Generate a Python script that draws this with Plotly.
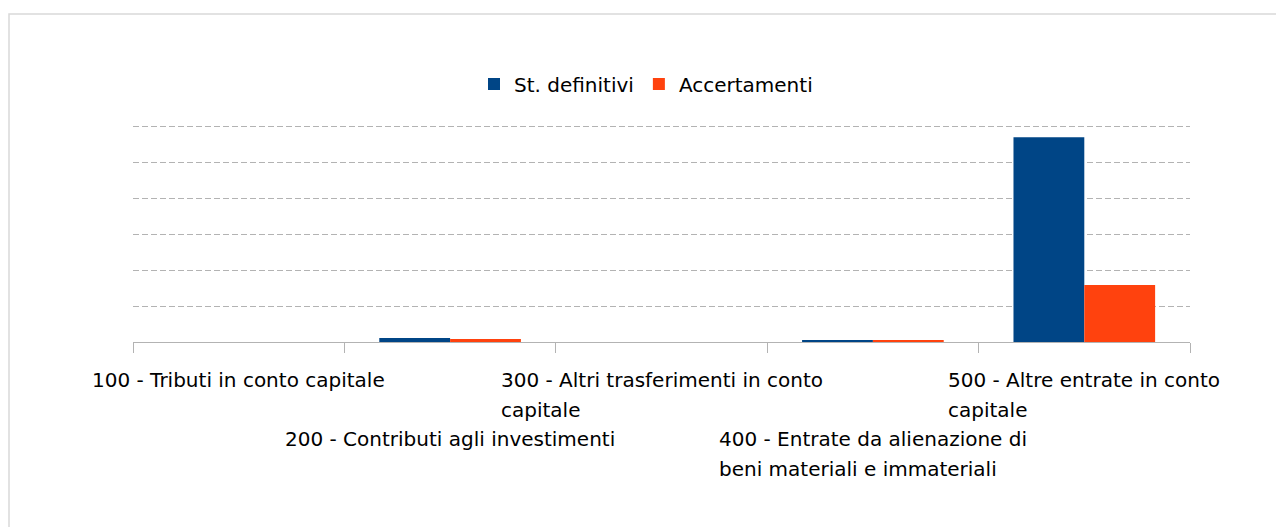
import plotly.graph_objects as go

categories = ["100", "200", "300", "400", "500"]
label_lines = [
    ["100 - Tributi in conto capitale"],
    ["200 - Contributi agli investimenti"],
    ["300 - Altri trasferimenti in conto", "capitale"],
    ["400 - Entrate da alienazione di", "beni materiali e immateriali"],
    ["500 - Altre entrate in conto", "capitale"],
]
st_definitivi = [0.0, 0.11, 0.0, 0.03, 5.69]
accertamenti = [0.0, 0.08, 0.0, 0.03, 1.58]

FONT = "DejaVu Sans"
W, H = 1276, 519           # page body has an 8px margin
L, R, T, B = 125, 94, 116, 185
plot_w = W - L - R
plot_h = H - T - B

fig = go.Figure()
fig.add_trace(go.Bar(x=categories, y=st_definitivi, name="St. definitivi",
                     marker=dict(color="#004586", line=dict(width=0))))
fig.add_trace(go.Bar(x=categories, y=accertamenti, name="Accertamenti",
                     marker=dict(color="#ff420e", line=dict(width=0))))

annotations = []
for i, lines in enumerate(label_lines):
    row = i % 2
    text = "<br>".join(f"<span style='font-size:20px'>{ln}</span>" for ln in lines)
    annotations.append(dict(
        x=i, xref="x", y=0, yref="paper", text=text, showarrow=False,
        xanchor="center", yanchor="top", align="left",
        yshift=-24 - 59 * row,
        font=dict(family=FONT, size=23, color="#000000"),
    ))

fig.update_layout(
    width=W, height=H,
    margin=dict(l=L, r=R, t=T, b=B, autoexpand=False),
    paper_bgcolor="white", plot_bgcolor="white",
    barmode="group", bargap=0.33, bargroupgap=0,
    font=dict(family=FONT, size=20, color="#000000"),
    showlegend=True,
    legend=dict(orientation="h", x=(646 - 8 - L) / plot_w, xanchor="center",
                y=(342 - 84) / plot_h, yanchor="middle",
                font=dict(size=20, family=FONT), traceorder="normal",
                itemwidth=30, tracegroupgap=0),
    xaxis=dict(type="category", range=[-0.5, 4.5], showticklabels=False,
               showline=True, linecolor="#b3b3b3", linewidth=1, ticks="outside",
               ticklen=10, tickcolor="#b3b3b3", tickson="boundaries",
               showgrid=False, fixedrange=True),
    yaxis=dict(range=[0, plot_h / 36], dtick=1, showticklabels=False,
               showline=False, showgrid=True, gridcolor="#b3b3b3",
               griddash="6px,3px", gridwidth=1, zeroline=False,
               fixedrange=True),
    annotations=annotations,
    shapes=[dict(type="rect", xref="paper", yref="paper",
                 x0=(1 - L) / plot_w, x1=(1300 - L) / plot_w,
                 y0=(plot_h + T - 540) / plot_h, y1=(plot_h + T - 6) / plot_h,
                 line=dict(color="#d9d9d9", width=1.5), layer="below")],
)

fig.write_html("out.html")
